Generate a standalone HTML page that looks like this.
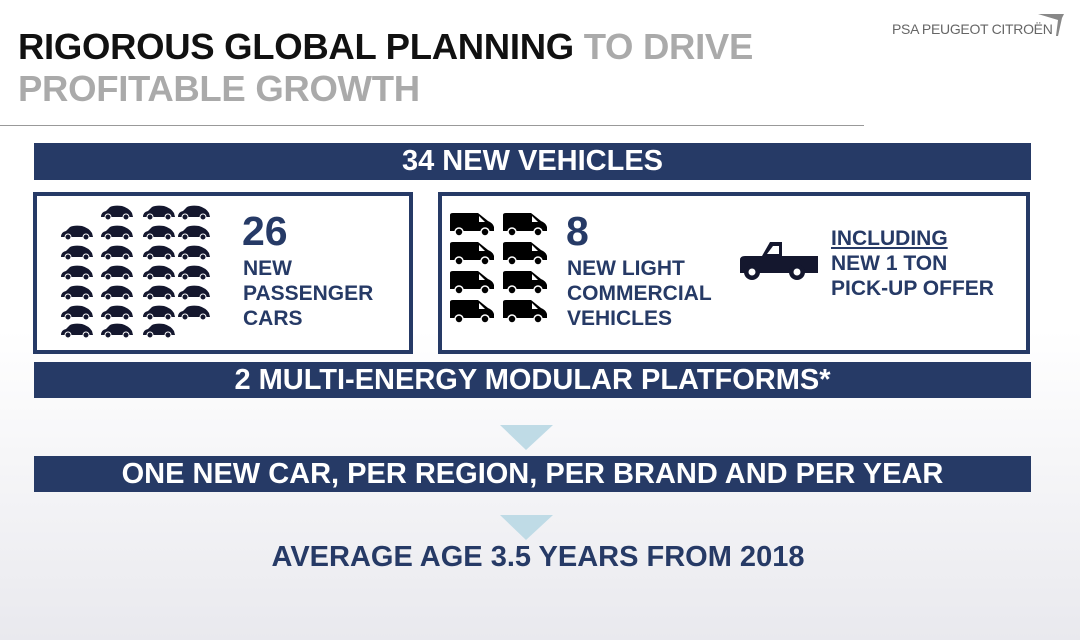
<!DOCTYPE html>
<html><head><meta charset="utf-8"><style>
body{margin:0;width:1080px;height:640px;overflow:hidden;background:linear-gradient(#fff 0px,#fff 330px,#e9e9ee 640px);font-family:"Liberation Sans",sans-serif;font-weight:bold;position:relative}
.a{position:absolute}
.bar{position:absolute;background:#263a66;color:#fff;text-align:center;font-size:29px;line-height:36px}
.box{position:absolute;border:4px solid #263a66;background:#fff;box-sizing:border-box}
.blue{color:#263a66}
</style></head><body>
<div class="a" style="left:18px;top:26px;font-size:36.5px;line-height:42px;color:#111;letter-spacing:-0.3px">RIGOROUS GLOBAL PLANNING <span style="color:#aaa">TO DRIVE</span><br><span style="color:#aaa">PROFITABLE GROWTH</span></div>
<div class="a" style="left:892px;top:21px;font-size:14px;color:#666;font-weight:normal;letter-spacing:-0.3px">PSA PEUGEOT CITROËN</div>
<svg class="a" style="left:1036px;top:12px" width="30" height="26"><path d="M2 2H28L26 6L22 24H20L22 8Z" fill="#888"/></svg>
<div class="a" style="left:0;top:125px;width:864px;height:1px;background:#999"></div>
<div class="bar" style="left:34px;top:143px;width:997px;height:37px">34 NEW VEHICLES</div>
<div class="box" style="left:33px;top:192px;width:380px;height:162px"></div>
<div class="box" style="left:438px;top:192px;width:592px;height:162px"></div>
<div class="bar" style="left:34px;top:362px;width:997px;height:36px">2 MULTI-ENERGY MODULAR PLATFORMS*</div>
<svg class="a" style="left:0;top:0" width="1080" height="640">
<defs>
<g id="c"><path d="M1 12 Q1 7 6 6 L10 2 Q14 0 22 1 Q29 3 32 8 L33 12 Z" fill="#14172e"/><circle cx="8" cy="12" r="3" fill="#14172e" stroke="#fff" stroke-width="1"/><circle cx="26" cy="12" r="3" fill="#14172e" stroke="#fff" stroke-width="1"/></g>
<g id="v"><path d="M0 2 Q0 0 3 0 H28 L38 8 Q43 10 44 14 V18 H0 Z" fill="#000"/><path d="M29 3 L35 9 H29Z" fill="#fff"/><circle cx="9" cy="19" r="4" fill="#000" stroke="#fff" stroke-width="1.5"/><circle cx="35" cy="19" r="4" fill="#000" stroke="#fff" stroke-width="1.5"/></g>
</defs>
<g>
<use href="#c" x="100" y="205"/><use href="#c" x="142" y="205"/><use href="#c" x="177" y="205"/>
<use href="#c" x="60" y="225"/><use href="#c" x="100" y="225"/><use href="#c" x="142" y="225"/><use href="#c" x="177" y="225"/>
<use href="#c" x="60" y="245"/><use href="#c" x="100" y="245"/><use href="#c" x="142" y="245"/><use href="#c" x="177" y="245"/>
<use href="#c" x="60" y="265"/><use href="#c" x="100" y="265"/><use href="#c" x="142" y="265"/><use href="#c" x="177" y="265"/>
<use href="#c" x="60" y="285"/><use href="#c" x="100" y="285"/><use href="#c" x="142" y="285"/><use href="#c" x="177" y="285"/>
<use href="#c" x="60" y="305"/><use href="#c" x="100" y="305"/><use href="#c" x="142" y="305"/><use href="#c" x="177" y="305"/>
<use href="#c" x="60" y="323"/><use href="#c" x="100" y="323"/><use href="#c" x="142" y="323"/>
</g>
<g>
<use href="#v" x="450" y="213"/><use href="#v" x="503" y="213"/>
<use href="#v" x="450" y="242"/><use href="#v" x="503" y="242"/>
<use href="#v" x="450" y="271"/><use href="#v" x="503" y="271"/>
<use href="#v" x="450" y="300"/><use href="#v" x="503" y="300"/>
</g>
<g fill="#14172e">
<path d="M740 260 Q740 256 745 256 H762 L770 242 H782 V256 H818 V273 H740 Z"/>
<path d="M773 246 H779 V254 H767 Z" fill="#fff"/>
<circle cx="752" cy="272" r="8"/><circle cx="797" cy="272" r="8"/>
<circle cx="752" cy="272" r="3.5" fill="#fff"/><circle cx="797" cy="272" r="3.5" fill="#fff"/>
</g>
<path d="M500 425 H553 L526 450 Z" fill="#bfdbe6"/>
<path d="M500 515 H553 L526 540 Z" fill="#bfdbe6"/>
</svg>
<div class="a blue" style="left:242px;top:210px;font-size:41px;line-height:42px">26</div>
<div class="a blue" style="left:243px;top:256px;font-size:21px;line-height:25px">NEW<br>PASSENGER<br>CARS</div>
<div class="a blue" style="left:566px;top:210px;font-size:41px;line-height:42px">8</div>
<div class="a blue" style="left:567px;top:256px;font-size:21px;line-height:25px">NEW LIGHT<br>COMMERCIAL<br>VEHICLES</div>
<div class="a blue" style="left:831px;top:226px;font-size:21px;line-height:25px"><u>INCLUDING</u><br>NEW 1 TON<br>PICK-UP OFFER</div>
<div class="bar" style="left:34px;top:456px;width:997px;height:36px">ONE NEW CAR, PER REGION, PER BRAND AND PER YEAR</div>
<div class="a blue" style="left:0;width:1076px;top:541px;font-size:29px;text-align:center">AVERAGE AGE 3.5 YEARS FROM 2018</div>
</body></html>
